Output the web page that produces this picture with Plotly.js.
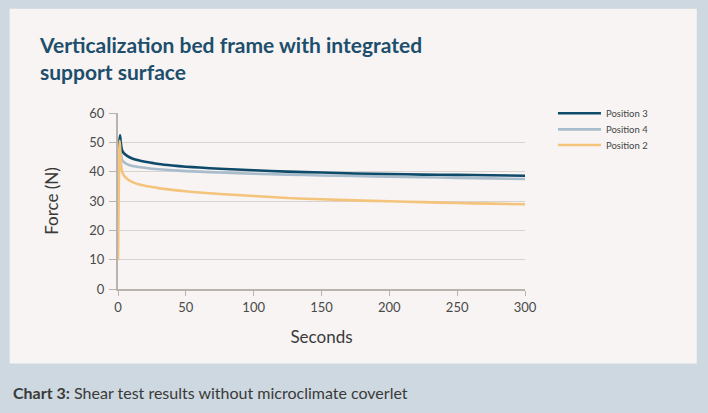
<!DOCTYPE html>
<html>
<head>
<meta charset="utf-8">
<script src="https://cdn.plot.ly/plotly-3.0.1.min.js"></script>
<style>html,body{margin:0;padding:0;background:#cdd8e0;}#chart{width:708px;height:413px;}</style>
</head>
<body>
<div id="chart"></div>
<script>
// Time (seconds) and force (N)
const timePos3 = [0, 1, 1.5, 2, 3, 4, 5, 7, 10, 15, 20, 25, 30, 40, 50, 60, 75, 100, 125, 150, 175, 200, 225, 250, 275, 300];
const forcePos3 = [38, 50, 52.4, 50, 47.3, 46.5, 46, 45.3, 44.6, 43.9, 43.4, 43.0, 42.6, 42.1, 41.7, 41.4, 41.0, 40.5, 40.0, 39.7, 39.4, 39.2, 39.0, 38.9, 38.8, 38.6];

const timePos4 = [0, 1, 1.5, 2, 3, 4, 5, 7, 10, 15, 20, 25, 30, 40, 50, 60, 75, 100, 125, 150, 175, 200, 225, 250, 275, 300];
const forcePos4 = [34, 48, 50, 47, 44, 43.4, 43, 42.5, 42.0, 41.6, 41.3, 41.0, 40.8, 40.5, 40.2, 40.0, 39.7, 39.3, 39.0, 38.7, 38.5, 38.3, 38.1, 37.9, 37.7, 37.5];

const timePos2 = [0, 0.5, 1, 1.3, 2, 3, 4, 5, 7, 10, 15, 20, 25, 30, 40, 50, 60, 75, 100, 125, 150, 175, 200, 225, 250, 275, 300];
const forcePos2 = [9.8, 30, 48, 50.5, 44, 40, 39, 38.3, 37.4, 36.6, 35.7, 35.2, 34.8, 34.4, 33.8, 33.3, 32.9, 32.4, 31.7, 31.0, 30.6, 30.2, 29.9, 29.6, 29.3, 29.1, 28.9];

const seriesNames = ["Position 3", "Position 4", "Position 2"];
const xTicks = [0, 50, 100, 150, 200, 250, 300];
const yTicks = [0, 10, 20, 30, 40, 50, 60];

const colors = ["#0e4a6a", "#a8bccb", "#f4c47c"];
const legendIds = ["legend", "legend2", "legend3"];

const traces = [
  {x: timePos3, y: forcePos3, name: seriesNames[0]},
  {x: timePos4, y: forcePos4, name: seriesNames[1]},
  {x: timePos2, y: forcePos2, name: seriesNames[2]}
].map((t, i) => Object.assign(t, {
  type: "scatter", mode: "lines",
  legend: legendIds[i],
  line: {color: colors[i], width: 2.6, shape: "spline", smoothing: 0.6}
}));
// draw order: light blue below navy, orange on top near the start
const ordered = [traces[1], traces[0], traces[2]];

// plot area in pixels
const L = 117.5, R = 525, T = 113, B = 288.7;
const W = 708, H = 413;
const px = v => (v - L) / (R - L);
const py = v => (B - v) / (B - T);

const legendRowY = [113.3, 129.3, 145];
function legendAt(i) {
  return {
    x: px(553), xanchor: "left", y: py(legendRowY[i]), yanchor: "middle",
    bgcolor: "rgba(0,0,0,0)",
    font: {size: 9.5, color: "#444444"},
    itemwidth: 43
  };
}

const layout = {
  width: W, height: H,
  margin: {l: L, r: W - R, t: T, b: H - B, pad: 0},
  paper_bgcolor: "#cdd8e0",
  plot_bgcolor: "rgba(0,0,0,0)",
  font: {family: "Lato, 'Open Sans', sans-serif", color: "#444444"},
  title: {
    text: "Verticalization bed frame with integrated<br>support surface",
    font: {family: "Lato, sans-serif", size: 21, color: "#1d4e6c", weight: 700},
    xref: "container", yref: "container",
    x: 40 / W, xanchor: "left",
    y: 1 - 53 / H, yanchor: "top"
  },
  showlegend: true,
  legend: legendAt(0),
  legend2: legendAt(1),
  legend3: legendAt(2),
  xaxis: {
    range: [0, 300], tickvals: xTicks, ticktext: xTicks.map(String),
    showgrid: false, zeroline: false,
    showline: true, linecolor: "#bab2ad", linewidth: 2,
    ticks: "outside", ticklen: 5, tickcolor: "#bab2ad", tickwidth: 1,
    tickfont: {size: 13, color: "#4a4a4a"},
    title: {text: "Seconds", font: {size: 17, color: "#3a3a3a"}, standoff: 18},
    fixedrange: true
  },
  yaxis: {
    range: [0, 60], tickvals: yTicks, ticktext: yTicks.map(String),
    showgrid: true, gridcolor: "#d9d3d0", gridwidth: 1,
    zeroline: false,
    showline: true, linecolor: "#bab2ad", linewidth: 2,
    ticks: "outside", ticklen: 7, tickcolor: "#bab2ad", tickwidth: 1,
    ticklabelstandoff: 2,
    tickfont: {size: 13, color: "#4a4a4a"},
    title: {text: "Force (N)", font: {size: 17, color: "#3a3a3a"}, standoff: 26},
    fixedrange: true
  },
  shapes: [{
    type: "rect", xref: "paper", yref: "paper", layer: "below",
    x0: px(9), x1: px(697), y0: py(363), y1: py(9),
    fillcolor: "#f7f4f3", line: {width: 0}
  }],
  annotations: [{
    text: "<b>Chart 3:</b> Shear test results without microclimate coverlet",
    xref: "paper", yref: "paper", x: px(10), y: py(392),
    xanchor: "left", yanchor: "middle", showarrow: false,
    font: {family: "Lato, sans-serif", size: 16, color: "#3a3a3a"}
  }]
};

Plotly.newPlot("chart", ordered, layout, {displayModeBar: false, staticPlot: true});
</script>
</body>
</html>
